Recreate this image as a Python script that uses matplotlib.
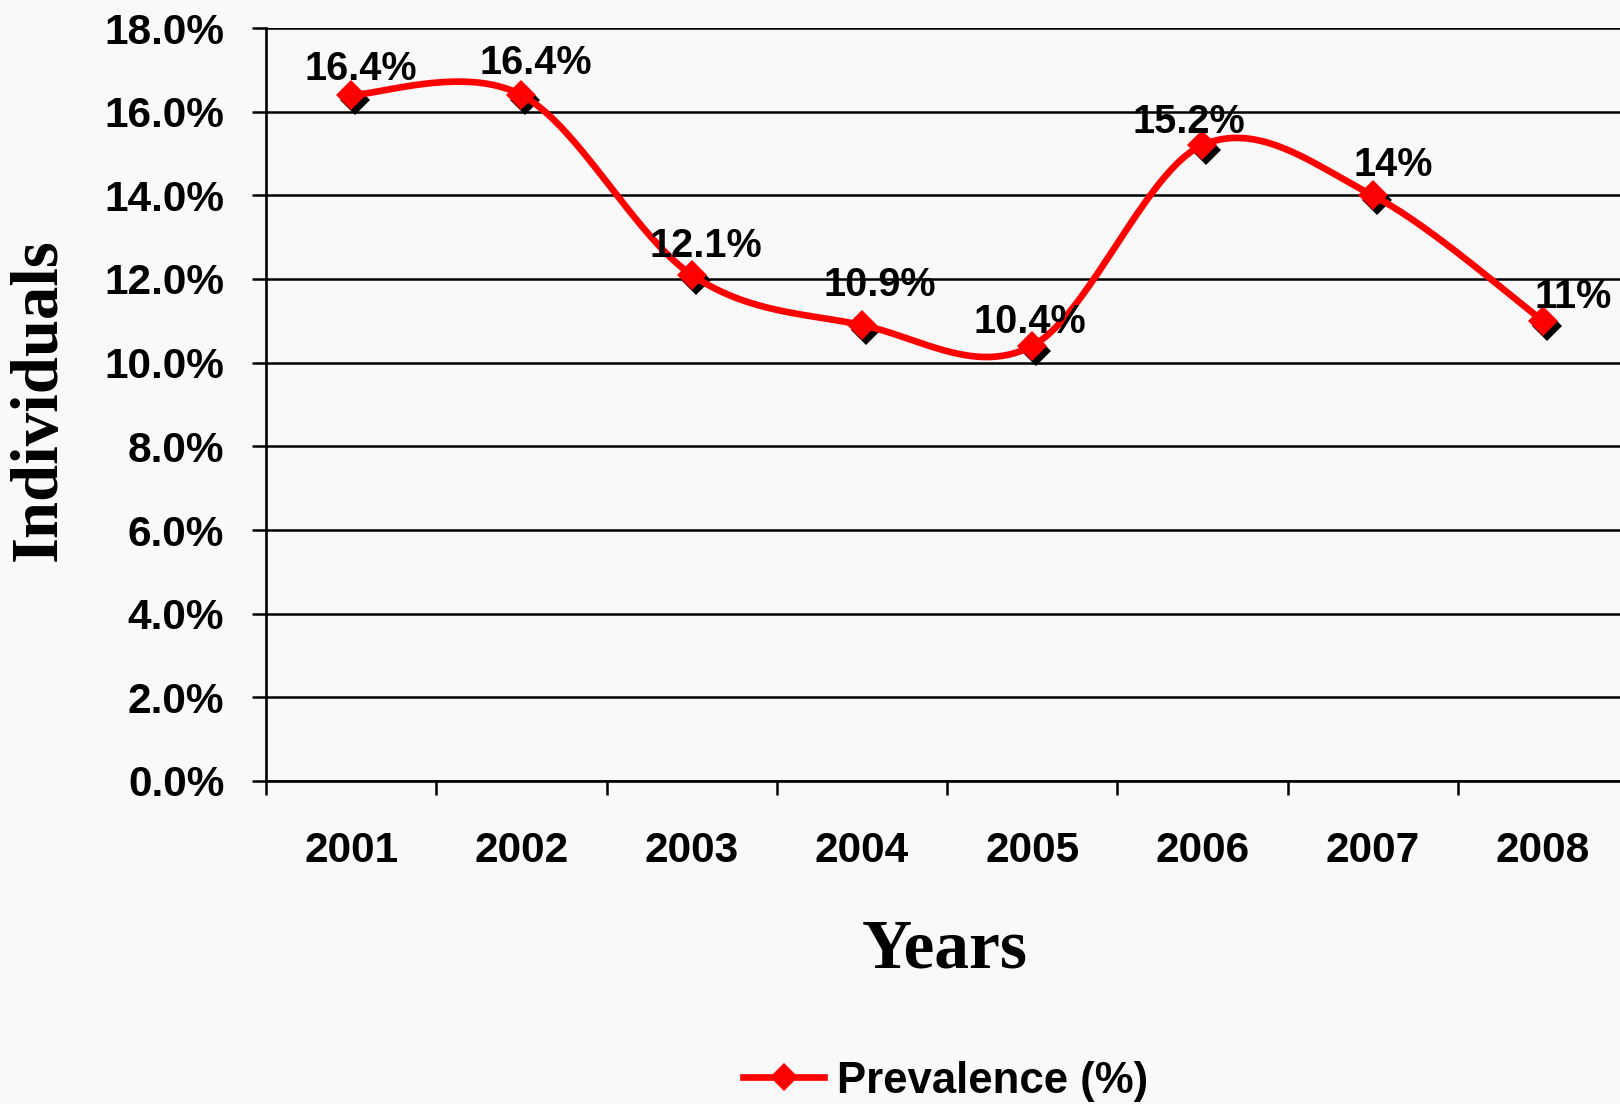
import numpy as np
import matplotlib
matplotlib.use("Agg")
import matplotlib.pyplot as plt
from matplotlib.transforms import offset_copy
from matplotlib.lines import Line2D

years = ["2001", "2002", "2003", "2004", "2005", "2006", "2007", "2008"]
prevalence = [16.4, 16.4, 12.1, 10.9, 10.4, 15.2, 14.0, 11.0]
point_labels = ["16.4%", "16.4%", "12.1%", "10.9%", "10.4%", "15.2%", "14%", "11%"]
y_ticks = [0, 2, 4, 6, 8, 10, 12, 14, 16, 18]

# nudges of the data labels (points), as placed in the original
label_nudge = [(7, 19), (10, 23), (10, 21), (13, 29), (-2, 17), (-10, 17), (15, 22), (22, 17)]


def smooth(x, y, n=40):
    # excel style smoothed line: bezier segments with catmull-rom control points
    x = np.asarray(x, float)
    y = np.asarray(y, float)
    xs, ys = [], []
    for i in range(len(x) - 1):
        i0 = max(i - 1, 0)
        i3 = min(i + 2, len(x) - 1)
        c1x = x[i] + (x[i + 1] - x[i0]) / 6
        c1y = y[i] + (y[i + 1] - y[i0]) / 6
        c2x = x[i + 1] - (x[i3] - x[i]) / 6
        c2y = y[i + 1] - (y[i3] - y[i]) / 6
        t = np.linspace(0, 1, n)
        b0 = (1 - t) ** 3
        b1 = 3 * (1 - t) ** 2 * t
        b2 = 3 * (1 - t) * t ** 2
        b3 = t ** 3
        xs.append(b0 * x[i] + b1 * c1x + b2 * c2x + b3 * x[i + 1])
        ys.append(b0 * y[i] + b1 * c1y + b2 * c2y + b3 * y[i + 1])
    return np.concatenate(xs), np.concatenate(ys)


plt.rcParams['font.family'] = ['Liberation Sans', 'DejaVu Sans']

fig = plt.figure(figsize=(16.2, 11.04), dpi=100, facecolor="#f9f9f9")
ax = fig.add_axes([266 / 1620, 1 - 781 / 1104, 1362 / 1620, 753 / 1104])
ax.set_facecolor("none")

xpos = np.arange(1, len(years) + 1)
sx, sy = smooth(xpos, prevalence)
ax.plot(sx, sy, color="#ff0000", lw=4.8, zorder=3, solid_capstyle="round")

shadow = offset_copy(ax.transData, fig=fig, x=4, y=-5, units="dots")
ax.plot(xpos, prevalence, "D", color="black", ms=15.5, mew=0, transform=shadow, zorder=2)
ax.plot(xpos, prevalence, "D", color="#ff0000", ms=15.5, mew=0, zorder=4)

for xp, v, lab, nd in zip(xpos, prevalence, point_labels, label_nudge):
    ax.annotate(lab, (xp, v), xytext=nd, textcoords="offset points",
                ha="center", va="center", fontsize=28.5, fontweight="bold", zorder=5)

ax.set_xlim(0.5, len(years) + 0.5)
ax.set_ylim(0, 18)
ax.set_yticks(y_ticks)
ax.set_yticklabels([f"{v:.1f}%" for v in y_ticks], fontsize=30.5, fontweight="bold")
ax.set_xticks(xpos)
ax.set_xticklabels(years, fontsize=30.5, fontweight="bold")
ax.set_xticks(np.arange(0.5, len(years) + 0.5, 1), minor=True)
ax.tick_params(axis="x", which="major", length=0, pad=36)
ax.tick_params(axis="x", which="minor", length=10, width=1.8, direction="out")
ax.tick_params(axis="y", length=10, width=1.8, direction="out", pad=20)

ax.grid(axis="y", color="black", lw=1.8)
ax.set_axisbelow(True)
for s in ["top", "right"]:
    ax.spines[s].set_visible(False)
for s in ["left", "bottom"]:
    ax.spines[s].set_linewidth(1.9)

fig.text(945 / 1620, 1 - 950 / 1104, "Years", family="Liberation Serif",
         fontweight="bold", fontsize=50, ha="center", va="center")
fig.text(39 / 1620, 1 - 400 / 1104, "Individuals", family="Liberation Serif",
         fontweight="bold", fontsize=48, ha="center", va="center", rotation=90)

handle = Line2D([], [], color="#ff0000", lw=4.8, marker="D", ms=14, mew=0)
fig.legend([handle], ["Prevalence (%)"], loc="center", bbox_to_anchor=(946 / 1620, 1 - 1081 / 1104),
           frameon=False, prop={"size": 31.5, "weight": "bold"}, handlelength=1.85,
           handletextpad=0.3, borderpad=0.1)

fig.savefig("out.png", dpi=100, facecolor=fig.get_facecolor())
